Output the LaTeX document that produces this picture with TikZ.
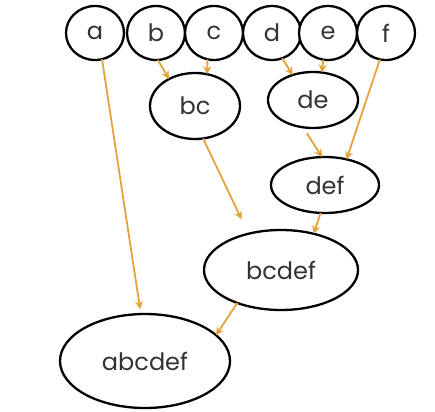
\documentclass[tikz,border=0pt]{standalone}
\usepackage{fontspec}
\setmainfont{Poppins}
\usetikzlibrary{shapes.geometric,arrows.meta}
\definecolor{arr}{RGB}{228,163,58}
\tikzset{
  el/.style={ellipse, draw=black, line width=2.3pt, inner sep=0pt, outer sep=0pt, fill=white,
    font=\fontsize{24}{24}\selectfont, text=black!80},
  leaf/.style={el, minimum width=58pt, minimum height=54pt},
  con/.style={draw=arr, line width=1.8pt, -{Stealth[length=8pt,width=8pt]}}
}
\begin{document}
\begin{tikzpicture}[x=1pt,y=-1pt]
\useasboundingbox (0,0) rectangle (435,411);
\node[leaf] (a) at (95,33) {a};
\node[leaf] (b) at (156,33) {b};
\node[leaf] (c) at (214,33) {c};
\node[leaf] (d) at (272,33) {d};
\node[leaf] (e) at (328,33) {e};
\node[leaf] (f) at (386,33) {f};
\node[el, minimum width=90pt, minimum height=66pt] (bc) at (195,106) {bc};
\node[el, minimum width=90pt, minimum height=56pt] (de) at (313,100) {de};
\node[el, minimum width=108pt, minimum height=56pt] (def) at (325,185) {def};
\node[el, minimum width=154pt, minimum height=80pt] (bcdef) at (281,270) {bcdef};
\node[el, minimum width=170pt, minimum height=94pt] (abcdef) at (145,361) {abcdef};
\draw[con, shorten >=5pt] (a.-75) -- (abcdef.95);
\draw[con] (b.-86) -- (bc.134);
\draw[con] (c.-104) -- (bc.69);
\draw[con] (d.-68) -- (de.129);
\draw[con] (e.-100) -- (de.72);
\draw[con] (f.-103) -- (def.50);
\draw[con, shorten <=7pt] (de.-110) -- (def.96);
\draw[con, shorten >=16pt] (bc.-76) -- (bcdef.132);
\draw[con] (def.-99) -- (bcdef.48);
\draw[con] (bcdef.217) -- (abcdef.20);
\end{tikzpicture}
\end{document}
